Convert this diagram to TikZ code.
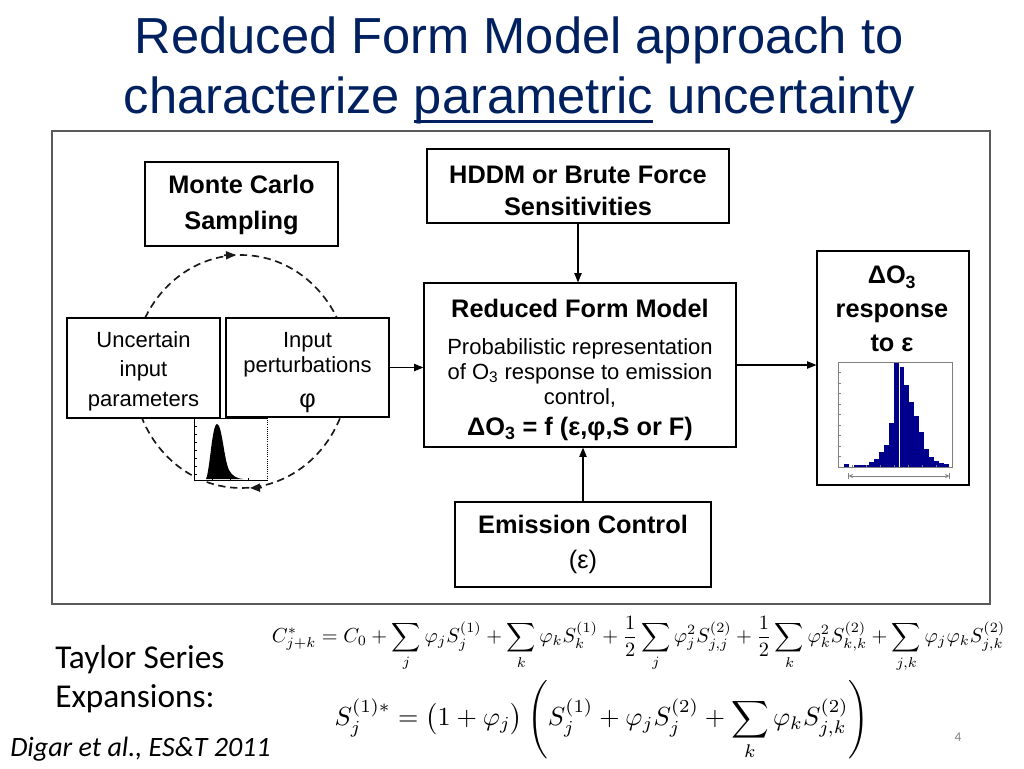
\documentclass[tikz,border=0pt]{standalone}
\usepackage{fontspec}
\usepackage{amsmath}
\usepackage{graphicx}
\setmainfont{Liberation Sans}
\newfontfamily\carlito{Carlito}
\usetikzlibrary{arrows.meta,calc}
\definecolor{titleblue}{RGB}{0,32,96}
\definecolor{histblue}{RGB}{0,0,140}
\definecolor{framegray}{RGB}{90,90,90}
\definecolor{cycgray}{RGB}{25,25,25}
\newcommand{\myuline}[1]{{\setbox0\hbox{#1}\rlap{\rule[-0.2em]{\wd0}{0.055em}}\box0}}
\tikzset{
  boxnode/.style={draw=black,line width=0.9pt,fill=white,inner sep=0pt},
  headfont/.style={font=\fontsize{19}{27}\selectfont\bfseries},
  bodyfont/.style={font=\fontsize{16.5}{22}\selectfont},
  conn/.style={line width=0.9pt,-{Triangle[length=7pt,width=5.5pt]}},
  cyc/.style={line width=1.25pt,cycgray,dash pattern=on 5.5pt off 3.5pt},
  cycarrow/.style={line width=1.25pt,cycgray,-{Triangle[length=7.5pt,width=6pt]}},
  txt/.style={inner sep=0pt},
  boxtxt/.style={inner sep=0pt,align=center}
}
\begin{document}
\begin{tikzpicture}[x=0.75pt,y=-0.75pt]
\useasboundingbox (0,0) rectangle (1024,768);
\fill[white] (0,0) rectangle (1024,768);

% title
\node[txt,anchor=base,text=titleblue,font=\fontsize{38}{45}\selectfont] (t1) at (519,53) {Reduced Form Model approach to};
\node[txt,anchor=base,text=titleblue,font=\fontsize{38}{45}\selectfont] (t2) at (519.5,113) {characterize \myuline{parametric} uncertainty};

% outer frame
\draw[framegray,line width=1.1pt] (52,131) rectangle (990,604);

% dashed cycle
\draw[cyc] (241,371.5) ellipse [x radius=108, y radius=116.5];
\draw[cycarrow] (224,255.3) -- (236,255);
\draw[cycarrow] (262,487.6) -- (250,488);

% boxes
\node[boxnode,minimum width=144.75pt,minimum height=63pt] (mc) at (241.5,204) {};
\node[boxtxt,headfont] (mct) at (241.5,205) {Monte Carlo\\Sampling};
\node[boxnode,minimum width=226.5pt,minimum height=55.5pt] (hddm) at (578,186) {};
\node[boxtxt,font=\fontsize{19}{24}\selectfont\bfseries] (hddmt) at (578,191) {HDDM or Brute Force\\Sensitivities};
\node[boxnode,minimum width=234pt,minimum height=123pt] (rfm) at (580,365) {};
\node[boxtxt,font=\fontsize{16.5}{18.8}\selectfont] (rfmt) at (580,370) {{\fontsize{19}{20}\selectfont\bfseries Reduced Form Model}\\[8.5pt]Probabilistic representation\\of O\textsubscript{3} response to emission\\control,\\[4.5pt]{\fontsize{19}{20}\selectfont\bfseries ΔO\textsubscript{3} = f (ε,φ,S or F)}};
\node[boxnode,minimum width=114pt,minimum height=175.5pt] (do3) at (893,368) {};
\node[boxtxt,font=\fontsize{19}{25.5}\selectfont\bfseries] (do3t) at (892,309) {ΔO\textsubscript{3}\\response\\to ε};
\node[boxnode,minimum width=114.75pt,minimum height=75pt] (unc) at (143.5,368) {};
\node[boxtxt,bodyfont] (unct) at (143.5,371) {Uncertain\\input\\parameters};
\node[boxnode,minimum width=122.25pt,minimum height=74.25pt] (inp) at (307.5,367.5) {};
\node[boxtxt,font=\fontsize{16.5}{18.8}\selectfont] (inpt) at (307.5,372.5) {Input\\perturbations\\[7pt]{\fontsize{19}{20}\selectfont φ}};
\node[boxnode,minimum width=192pt,minimum height=63.75pt] (emis) at (583,544.5) {};
\node[boxtxt,font=\fontsize{19}{26}\selectfont\bfseries] (emist) at (583,544.5) {Emission Control\\{\mdseries (ε)}};

% connectors
\draw[conn] (inp.east) -- (rfm.west |- inp.east);
\draw[conn] (hddm.south) -- (rfm.north -| hddm.south);
\draw[conn] (emis.north) -- (rfm.south -| emis.north);
\draw[conn] (rfm.east) -- (do3.west |- rfm.east);

% small input histogram
\fill[white] (194,418) rectangle (267,480);
\draw[line width=0.6pt] (267,418) -- (194,418) -- (194,480) -- (267,480);
\draw[line width=0.6pt,densely dotted] (267,418) -- (267,480);
\foreach \yy in {426,434,442,450,458,466,474} \draw[line width=0.4pt] (194,\yy) -- (196.5,\yy);
\foreach \xx in {212,230,248} \draw[line width=0.4pt] (\xx,480) -- (\xx,477.5);
\fill[black] (206,479) .. controls (210,470) and (212,424) .. (217,424) .. controls (222,424) and (224,460) .. (229,470) .. controls (232,476) and (237,478.5) .. (243,479) -- cycle;

% output histogram
\fill[white] (834,353) rectangle (968,484);
\foreach \bx/\bh in {844/0.03,854/0.02,859/0.02,864/0.02,869/0.05,874/0.08,879/0.14,884/0.21,889/0.42,894/1.0,899/0.95,904/0.78,909/0.62,914/0.49,919/0.33,924/0.17,929/0.1,934/0.06,939/0.04,944/0.025}
  \fill[histblue] (\bx,467) rectangle ({\bx+5},{467-105*\bh});
\draw[white,line width=0.6pt] (899,467) -- (899,363);
\draw[gray,line width=0.5pt] (838,362) rectangle (952,467);
\foreach \yy in {372.5,383,393.5,404,414.5,425,435.5,446,456.5} \draw[gray,line width=0.4pt] (838,\yy) -- (840.5,\yy);
\foreach \xx in {852,866,880,894,908,922,936} \draw[gray,line width=0.4pt] (\xx,467) -- (\xx,464.5);
\draw[gray,line width=0.5pt,|<->|,>=stealth] (848,476) -- (950,476);

% equations
\node[txt] (eq1) at (638.5,644) {\resizebox{550pt}{!}{$\displaystyle C^{*}_{j+k}=C_0+\sum_{j}\varphi_jS_j^{(1)}+\sum_{k}\varphi_kS_k^{(1)}+\frac{1}{2}\sum_{j}\varphi_j^2S_{j,j}^{(2)}+\frac{1}{2}\sum_{k}\varphi_k^2S_{k,k}^{(2)}+\sum_{j,k}\varphi_j\varphi_kS_{j,k}^{(2)}$}};
\node[txt] (eq2) at (602,720) {\resizebox{401pt}{!}{$\displaystyle S_j^{(1)*}=\bigl(1+\varphi_j\bigr)\left(S_j^{(1)}+\varphi_jS_j^{(2)}+\sum_{k}\varphi_kS_{j,k}^{(2)}\right)$}};

% texts
\node[txt,anchor=base west,font=\carlito\fontsize{25}{30}\selectfont] (tse) at (55,668) {Taylor Series};
\node[txt,anchor=base west,font=\carlito\fontsize{25}{30}\selectfont] (tse2) at (55,707) {Expansions:};
\node[txt,anchor=base west,font=\carlito\itshape\fontsize{21}{25}\selectfont] (cite) at (10,756) {Digar et al., ES\&T 2011};
\node[txt,text=gray,font=\carlito\fontsize{10}{12}\selectfont] (pg) at (958,737) {4};
\end{tikzpicture}
\end{document}
